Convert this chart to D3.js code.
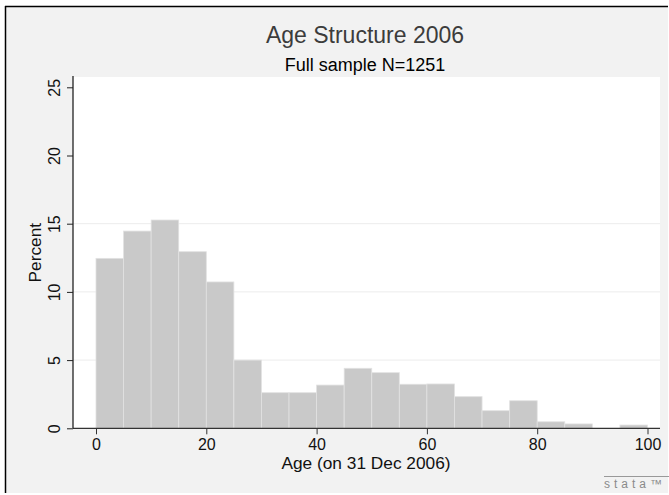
<!DOCTYPE html>
<html>
<head>
<meta charset="utf-8">
<script src="https://cdn.jsdelivr.net/npm/d3@7"></script>
<style>
  body { margin: 0; background: #fff; }
  svg { display: block; font-family: "Liberation Sans", Arial, sans-serif; }
</style>
</head>
<body>
<svg width="669" height="495"></svg>
<script>
// histogram bins (age, width 5) and percent per bin
const binStarts = [0, 5, 10, 15, 20, 25, 30, 35, 40, 45, 50, 55, 60, 65, 70, 75, 80, 85, 90, 95];
const percents = [12.46, 14.46, 15.27, 12.95, 10.73, 5.0, 2.61, 2.61, 3.17, 4.40,
                  4.08, 3.23, 3.25, 2.32, 1.29, 2.02, 0.48, 0.32, 0, 0.24];
const binWidth = 5;
const xTicks = [0, 20, 40, 60, 80, 100];
const yTicks = [0, 5, 10, 15, 20, 25];
const gridValues = [5, 10, 15];

const svg = d3.select('svg');

// graph region + frame (left and top only)
svg.append('rect').attr('x', 5).attr('y', 7).attr('width', 663).attr('height', 486).attr('fill', '#f2f2f2');
svg.append('line').attr('x1', 5.5).attr('x2', 5.5).attr('y1', 6).attr('y2', 493).attr('stroke', '#000').attr('stroke-width', 1.5);
svg.append('line').attr('x1', 5).attr('x2', 668).attr('y1', 6.5).attr('y2', 6.5).attr('stroke', '#000').attr('stroke-width', 1.5);

const plot = { left: 73, right: 660, top: 77, bottom: 428.3 };

const x = d3.scaleLinear().domain([0, 100]).range([96, 647.5]);
const y = d3.scaleLinear().domain([0, 25]).range([plot.bottom, 87.3]);

svg.append('rect')
    .attr('x', plot.left).attr('y', plot.top)
    .attr('width', plot.right - plot.left).attr('height', plot.bottom - plot.top)
    .attr('fill', '#fff');

// grid
svg.selectAll('line.grid').data(gridValues).enter().append('line')
    .attr('class', 'grid')
    .attr('x1', plot.left).attr('x2', plot.right)
    .attr('y1', d => y(d)).attr('y2', d => y(d))
    .attr('stroke', '#ececec').attr('stroke-width', 1);

// bars
svg.selectAll('rect.bar').data(binStarts.map((s, i) => ({ s, p: percents[i] })).filter(d => d.p > 0))
    .enter().append('rect')
    .attr('class', 'bar')
    .attr('x', d => x(d.s))
    .attr('width', d => x(d.s + binWidth) - x(d.s))
    .attr('y', d => y(d.p))
    .attr('height', d => y(0) - y(d.p))
    .attr('fill', '#c9c9c9')
    .attr('stroke', '#e2e2e2')
    .attr('stroke-width', 0.8);

// axes
const xAxis = d3.axisBottom(x).tickValues(xTicks).tickSize(6).tickPadding(4);
const gx = svg.append('g').attr('transform', `translate(0,${plot.bottom})`).call(xAxis);
gx.select('.domain').remove();
gx.append('line').attr('x1', plot.left).attr('x2', plot.right).attr('stroke', '#333').attr('stroke-width', 1.3);
gx.selectAll('.tick line').attr('stroke', '#333');
gx.selectAll('.tick text').attr('font-size', 16).attr('fill', '#111').attr('font-family', 'Liberation Sans, Arial, sans-serif');

const yAxis = d3.axisLeft(y).tickValues(yTicks).tickSize(6).tickPadding(0);
const gy = svg.append('g').attr('transform', `translate(${plot.left},0)`).call(yAxis);
gy.select('.domain').remove();
gy.append('line').attr('y1', plot.top - 1).attr('y2', plot.bottom).attr('stroke', '#222').attr('stroke-width', 1.3);
gy.selectAll('.tick line').attr('stroke', '#222');
gy.selectAll('.tick text')
    .attr('font-size', 16).attr('fill', '#111')
    .attr('font-family', 'Liberation Sans, Arial, sans-serif')
    .attr('text-anchor', 'middle')
    .attr('dy', 0)
    .attr('x', 0)
    .attr('transform', 'translate(-13.5,0) rotate(-90)');

// titles
svg.append('text').attr('x', 365).attr('y', 43).attr('text-anchor', 'middle')
    .attr('font-size', 23).attr('fill', '#3c3c3c').text('Age Structure 2006');
svg.append('text').attr('x', 365).attr('y', 71).attr('text-anchor', 'middle')
    .attr('font-size', 18).attr('fill', '#000').text('Full sample N=1251');
svg.append('text').attr('x', 366).attr('y', 469).attr('text-anchor', 'middle')
    .attr('font-size', 17.3).attr('fill', '#111').text('Age (on 31 Dec 2006)');
svg.append('text').attr('transform', `translate(41,${(plot.top + plot.bottom) / 2}) rotate(-90)`)
    .attr('text-anchor', 'middle').attr('font-size', 17.3).attr('fill', '#111').text('Percent');

// stata mark
svg.append('line').attr('x1', 604).attr('x2', 669).attr('y1', 476.5).attr('y2', 476.5).attr('stroke', '#999').attr('stroke-width', 1);
svg.append('text').attr('x', 604).attr('y', 488).attr('font-size', 12).attr('letter-spacing', 4)
    .attr('fill', '#8a8a8a').text('stata™');
</script>
</body>
</html>
